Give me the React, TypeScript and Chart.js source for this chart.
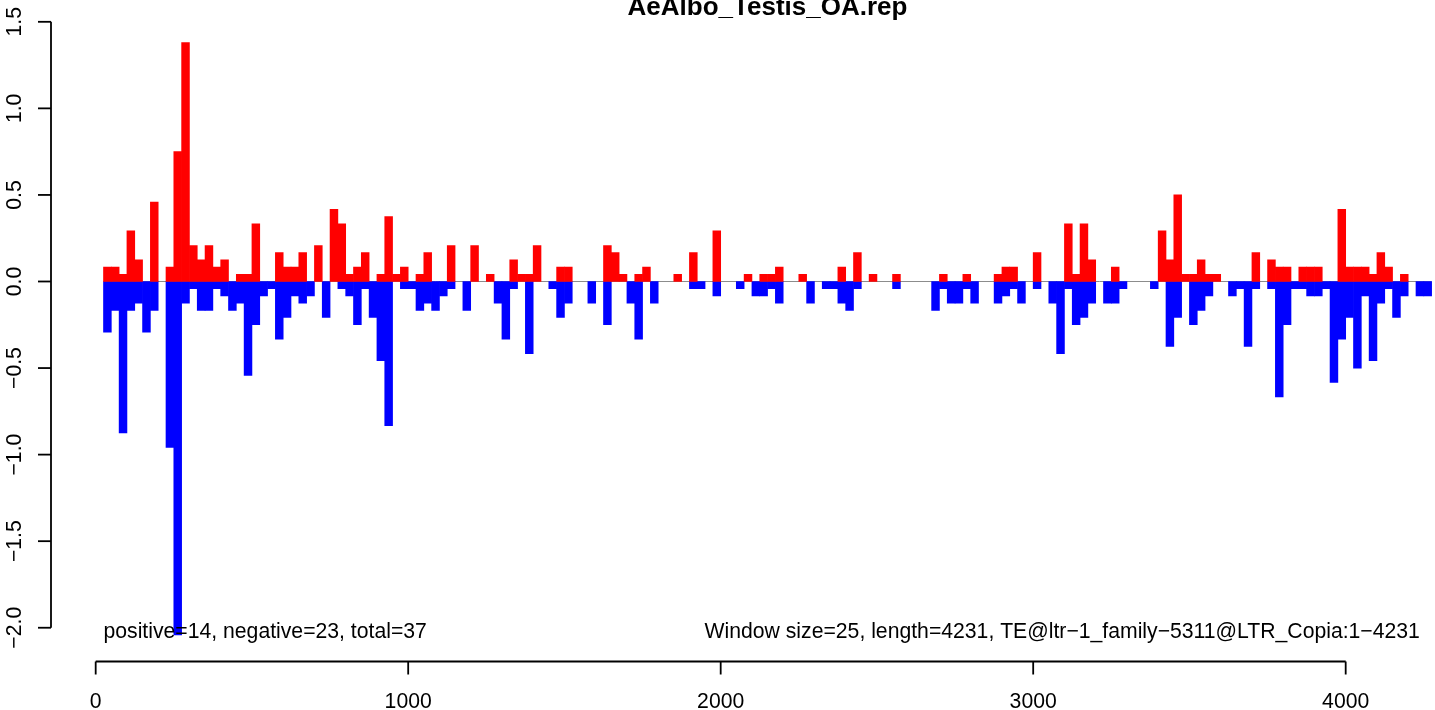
import React, { useEffect, useRef } from "react";
import { Chart, registerables } from "chart.js";

Chart.register(...registerables);

// ---------------- data ----------------
const windowSize = 25;
const titleText = "AeAlbo_Testis_OA.rep";
const leftNote = "positive=14, negative=23, total=37";
const rightNote = "Window size=25, length=4231, TE@ltr\u22121_family\u22125311@LTR_Copia:1\u22124231";
const rightNoteAt = 4231;
const leftNoteAt = 25;
const noteLevel = -2.042;

const xTicks = [0, 1000, 2000, 3000, 4000];
const xTickLabels = ["0", "1000", "2000", "3000", "4000"];
const yTicks = [-2, -1.5, -1, -0.5, 0, 0.5, 1, 1.5];
const yTickLabels = ["\u22122.0", "\u22121.5", "\u22121.0", "\u22120.5", "0.0", "0.5", "1.0", "1.5"];

// one value per 25-bp window (window 1 .. 170)
const positiveValues = [
  0.083, 0.083, 0.042, 0.292, 0.125, 0, 0.458, 0, 0.083, 0.75,
  1.38, 0.208, 0.125, 0.208, 0.083, 0.125, 0, 0.042, 0.042, 0.333,
  0, 0, 0.167, 0.083, 0.083, 0.167, 0, 0.208, 0, 0.417,
  0.333, 0.042, 0.083, 0.167, 0, 0.042, 0.375, 0.042, 0.083, 0,
  0.042, 0.167, 0, 0, 0.208, 0, 0, 0.208, 0, 0.042,
  0, 0, 0.125, 0.042, 0.042, 0.208, 0, 0, 0.083, 0.083,
  0, 0, 0, 0, 0.208, 0.167, 0.042, 0, 0.042, 0.083,
  0, 0, 0, 0.042, 0, 0.167, 0, 0, 0.292, 0,
  0, 0, 0.042, 0, 0.042, 0.042, 0.083, 0, 0, 0.042,
  0, 0, 0, 0, 0.083, 0, 0.167, 0, 0.042, 0,
  0, 0.042, 0, 0, 0, 0, 0, 0.042, 0, 0,
  0.042, 0, 0, 0, 0.042, 0.083, 0.083, 0, 0, 0.167,
  0, 0, 0, 0.333, 0.042, 0.333, 0.125, 0, 0, 0.083,
  0, 0, 0, 0, 0, 0.292, 0.125, 0.5, 0.042, 0.042,
  0.125, 0.042, 0.042, 0, 0, 0, 0, 0.167, 0, 0.125,
  0.083, 0.083, 0, 0.083, 0.083, 0.083, 0, 0, 0.417, 0.083,
  0.083, 0.083, 0.042, 0.167, 0.083, 0, 0.042, 0, 0, 0,
];

const negativeValues = [
  -0.292, -0.167, -0.875, -0.167, -0.125, -0.292, -0.167, 0, -0.958, -2.042,
  -0.125, -0.042, -0.167, -0.167, -0.042, -0.083, -0.167, -0.125, -0.542, -0.25,
  -0.083, -0.042, -0.333, -0.208, -0.083, -0.125, -0.083, 0, -0.208, 0,
  -0.042, -0.083, -0.25, -0.042, -0.208, -0.458, -0.833, 0, -0.042, -0.042,
  -0.167, -0.125, -0.167, -0.083, -0.042, 0, -0.167, 0, 0, 0,
  -0.125, -0.333, -0.042, 0, -0.417, 0, 0, -0.042, -0.208, -0.125,
  0, 0, -0.125, 0, -0.25, 0, 0, -0.125, -0.333, 0,
  -0.125, 0, 0, 0, 0, -0.042, -0.042, 0, -0.083, 0,
  0, -0.042, 0, -0.083, -0.083, -0.042, -0.125, 0, 0, 0,
  -0.125, 0, -0.042, -0.042, -0.125, -0.167, -0.042, 0, 0, 0,
  0, -0.042, 0, 0, 0, 0, -0.167, -0.042, -0.125, -0.125,
  -0.042, -0.125, 0, 0, -0.125, -0.083, -0.042, -0.125, 0, -0.042,
  0, -0.125, -0.417, -0.042, -0.25, -0.208, -0.125, 0, -0.125, -0.125,
  -0.042, 0, 0, 0, -0.042, 0, -0.375, -0.208, 0, -0.25,
  -0.167, -0.083, 0, 0, -0.083, -0.042, -0.375, -0.042, 0, -0.042,
  -0.667, -0.25, -0.042, -0.042, -0.083, -0.083, -0.042, -0.583, -0.333, -0.208,
  -0.5, -0.083, -0.458, -0.125, -0.042, -0.208, -0.083, 0, -0.083, -0.083,
];

// ---------------- chart ----------------
const FONT = '"Liberation Sans", Arial, Helvetica, sans-serif';
const W = 1435;
const H = 710;

function toPoints(values: number[]) {
  return values.map((v, i) => ({
    x: (i + 1) * windowSize + windowSize / 2,
    y: v === 0 ? null : v,
  }));
}

const decorPlugin = {
  id: "rdecor",
  beforeDatasetsDraw(chart: any) {
    const { ctx, scales } = chart;
    const xs = scales.x;
    const ys = scales.y;
    const n = positiveValues.length;
    const y0 = Math.round(ys.getPixelForValue(0)) + 0.5;
    ctx.save();
    ctx.strokeStyle = "#8c8c8c";
    ctx.lineWidth = 1;
    ctx.beginPath();
    ctx.moveTo(xs.getPixelForValue(windowSize), y0);
    ctx.lineTo(xs.getPixelForValue((n + 1) * windowSize), y0);
    ctx.stroke();
    ctx.restore();
  },
  afterDraw(chart: any) {
    const { ctx, scales, chartArea } = chart;
    const xs = scales.x;
    const ys = scales.y;
    ctx.save();
    ctx.fillStyle = "#000";
    ctx.strokeStyle = "#000";
    ctx.lineWidth = 1.8;
    ctx.lineCap = "butt";

    // title
    ctx.font = `bold 26px ${FONT}`;
    ctx.textAlign = "center";
    ctx.textBaseline = "alphabetic";
    ctx.fillText(titleText, 767.5, 15);

    // y axis
    const ax = chartArea.left;
    ctx.beginPath();
    ctx.moveTo(ax, ys.getPixelForValue(yTicks[0]));
    ctx.lineTo(ax, ys.getPixelForValue(yTicks[yTicks.length - 1]));
    ctx.stroke();
    ctx.font = `21.2px ${FONT}`;
    yTicks.forEach((v, i) => {
      const py = ys.getPixelForValue(v);
      ctx.beginPath();
      ctx.moveTo(ax, py);
      ctx.lineTo(ax - 13, py);
      ctx.stroke();
      ctx.save();
      ctx.translate(21, py);
      ctx.rotate(-Math.PI / 2);
      ctx.textAlign = "center";
      ctx.textBaseline = "alphabetic";
      ctx.fillText(yTickLabels[i], 0, 0);
      ctx.restore();
    });

    // x axis
    const ay = chartArea.bottom;
    ctx.beginPath();
    ctx.moveTo(xs.getPixelForValue(xTicks[0]), ay);
    ctx.lineTo(xs.getPixelForValue(xTicks[xTicks.length - 1]), ay);
    ctx.stroke();
    ctx.textAlign = "center";
    ctx.textBaseline = "alphabetic";
    xTicks.forEach((v, i) => {
      const px = xs.getPixelForValue(v);
      ctx.beginPath();
      ctx.moveTo(px, ay);
      ctx.lineTo(px, ay + 13);
      ctx.stroke();
      ctx.fillText(xTickLabels[i], px, 708);
    });

    // annotations
    const ny = ys.getPixelForValue(noteLevel) + 3;
    ctx.textAlign = "left";
    ctx.fillText(leftNote, xs.getPixelForValue(leftNoteAt), ny);
    ctx.textAlign = "right";
    ctx.fillText(rightNote, xs.getPixelForValue(rightNoteAt) + 2, ny);
    ctx.restore();
  },
};

export default function App() {
  const canvasRef = useRef<HTMLCanvasElement | null>(null);

  useEffect(() => {
    const canvas = canvasRef.current;
    if (!canvas) return;
    const chart = new Chart(canvas, {
      type: "bar",
      data: {
        datasets: [
          {
            label: "positive",
            data: toPoints(positiveValues) as any,
            backgroundColor: "#ff0000",
            borderWidth: 0,
            grouped: false,
            barPercentage: 1,
            categoryPercentage: 1,
          } as any,
          {
            label: "negative",
            data: toPoints(negativeValues) as any,
            backgroundColor: "#0000ff",
            borderWidth: 0,
            grouped: false,
            barPercentage: 1,
            categoryPercentage: 1,
          } as any,
        ],
      },
      options: {
        animation: false,
        responsive: false,
        devicePixelRatio: 1,
        layout: { padding: { left: 51, right: 0, top: 18, bottom: 48.5 } },
        plugins: {
          legend: { display: false },
          tooltip: { enabled: false },
          title: { display: false },
        },
        scales: {
          x: {
            type: "linear",
            display: false,
            offset: false,
            min: -143,
            max: 4285.8,
          },
          y: {
            type: "linear",
            display: false,
            min: -2.195,
            max: 1.522,
          },
        },
      } as any,
      plugins: [decorPlugin],
    });
    return () => chart.destroy();
  }, []);

  return (
    <div
      style={{
        position: "fixed",
        left: 0,
        top: 0,
        width: W,
        height: H,
        background: "#ffffff",
      }}
    >
      <canvas ref={canvasRef} width={W} height={H} style={{ display: "block", width: W, height: H }} />
    </div>
  );
}
